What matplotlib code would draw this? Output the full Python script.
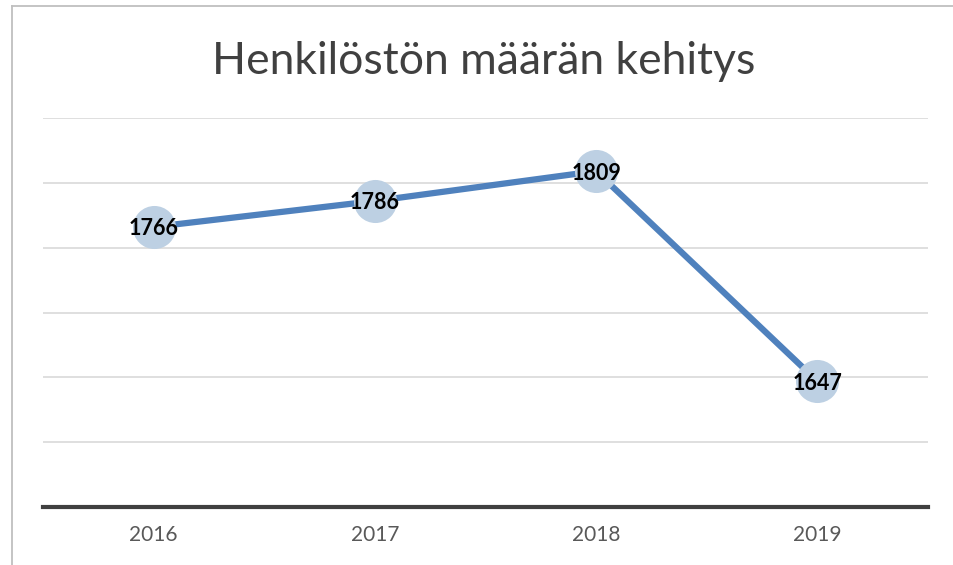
import matplotlib
matplotlib.use("Agg")
import matplotlib.pyplot as plt
from matplotlib.lines import Line2D

years = ["2016", "2017", "2018", "2019"]
staff = [1766, 1786, 1809, 1647]
gridvals = [1600, 1650, 1700, 1750, 1800, 1850]
title = "Henkilöstön määrän kehitys"

W, H = 954, 565
fig = plt.figure(figsize=(W / 100, H / 100), dpi=100)
fig.patch.set_facecolor("white")

# outer frame of the chart area (top and left visible in screenshot)
fig.add_artist(Line2D([12.5 / W, 1.0], [1 - 6 / H, 1 - 6 / H], transform=fig.transFigure,
                      color="#BFBFBF", lw=1.3))
fig.add_artist(Line2D([12.5 / W, 12.5 / W], [0, 1 - 6 / H], transform=fig.transFigure,
                      color="#BFBFBF", lw=1.3))

left, right = 43 / W, 928 / W
bottom, top = 1 - 507 / H, 1 - 118 / H
ax = fig.add_axes([left, bottom, right - left, top - bottom])
ax.set_xlim(-0.5, len(years) - 0.5)
ax.set_ylim(1550, 1850)

for g in gridvals:
    ax.axhline(g, color="#D9D9D9", lw=1.2, zorder=0)

for s in ["top", "right", "left"]:
    ax.spines[s].set_visible(False)
ax.spines["bottom"].set_color("#404040")
ax.spines["bottom"].set_linewidth(3)
ax.set_yticks([])
x = list(range(len(years)))
ax.set_xticks(x)
ax.set_xticklabels(years, fontsize=15, color="#595959", family="Lato")
ax.tick_params(axis="x", length=0, pad=13)

ax.plot(x, staff, color="#4F81BD", lw=4.5, zorder=2, solid_capstyle="round")
ax.plot(x, staff, linestyle="none", marker="o", markersize=31,
        markerfacecolor="#BDD0E3", markeredgecolor="none", zorder=3)
for xi, v in zip(x, staff):
    ax.text(xi, v, str(v), ha="center", va="center_baseline", fontsize=15.5, fontweight="bold",
            color="black", family="Lato", zorder=4)

fig.text(484 / W, 1 - 61 / H, title, ha="center", va="center", fontsize=32,
         color="#404040", family="Lato")

fig.savefig("out.png", dpi=100)
